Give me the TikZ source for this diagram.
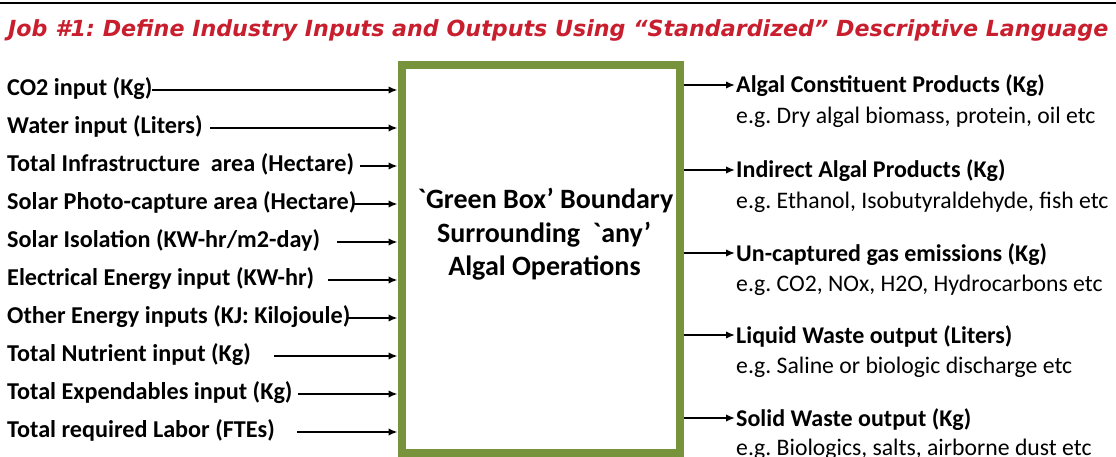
\documentclass[tikz,border=0pt]{standalone}
\usepackage{fontspec}
\setmainfont{Carlito}[Ligatures=TeXOff]
\newfontfamily\titlefont{DejaVu Sans}[Ligatures=TeXOff]
\usetikzlibrary{arrows.meta}
\definecolor{boxgreen}{RGB}{119,147,60}
\definecolor{titlered}{RGB}{200,30,45}
\frenchspacing
\begin{document}
\begin{tikzpicture}[x=1pt,y=-1pt,
  inlab/.style={font=\bfseries\fontsize{24.2}{26}\selectfont, anchor=base west, inner sep=0pt},
  outhead/.style={font=\bfseries\fontsize{24}{26}\selectfont, anchor=base west, inner sep=0pt},
  outdesc/.style={font=\fontsize{23.7}{26}\selectfont, anchor=base west, inner sep=0pt},
  boxtext/.style={font=\bfseries\fontsize{28}{30}\selectfont, anchor=base, inner sep=0pt},
  arr/.style={line width=1.6pt, -{Latex[length=9pt,width=7.5pt]}}]
\useasboundingbox (0,0) rectangle (1116,457);
\fill[white] (0,0) rectangle (1116,457);
\draw[line width=2pt] (0,3.5) -- (1116,3.5);
\node[anchor=base west, inner sep=0pt, text=titlered] (title) at (8,37)
  {\resizebox{1100pt}{!}{\titlefont\bfseries\itshape Job \#1: Define Industry Inputs and Outputs Using “Standardized” Descriptive Language}};
% green box
\node[draw=boxgreen, line width=8pt, minimum width=278.5pt, minimum height=388pt, inner sep=0pt] (box) at (540.75,259) {};
\node[boxtext] (c1) at (545.5,209) {`Green Box’ Boundary};
\node[boxtext] (c2) at (544,242) {Surrounding\ \ `any’};
\node[boxtext] (c3) at (544.5,275.5) {Algal Operations};
% inputs
\node[inlab] (l1) at (7,95.5) {CO2 input (Kg)};
\node[inlab] (l2) at (7,133.5) {Water input (Liters)};
\node[inlab] (l3) at (7,171.5) {Total Infrastructure\ \ area (Hectare)};
\node[inlab] (l4) at (7,209.5) {Solar Photo-capture area (Hectare)};
\node[inlab] (l5) at (7,247.5) {Solar Isolation (KW-hr/m2-day)};
\node[inlab] (l6) at (7,285.5) {Electrical Energy input (KW-hr)};
\node[inlab] (l7) at (7,323.5) {Other Energy inputs (KJ: Kilojoule)};
\node[inlab] (l8) at (7,361.5) {Total Nutrient input (Kg)};
\node[inlab] (l9) at (7,399.5) {Total Expendables input (Kg)};
\node[inlab] (l10) at (7,437.5) {Total required Labor (FTEs)};
\coordinate (s1) at (152,90);
\coordinate (s2) at (210,128);
\coordinate (s3) at (360,166);
\coordinate (s4) at (354,204);
\coordinate (s5) at (337,242);
\coordinate (s6) at (328,280);
\coordinate (s7) at (347,318);
\coordinate (s8) at (274,356);
\coordinate (s9) at (298,394);
\coordinate (s10) at (297,432);
\foreach \i in {1,...,10} {\draw[arr] (s\i) -- (s\i -| box.west);}
% outputs
\coordinate (t1) at (735,85);
\coordinate (t2) at (735,170);
\coordinate (t3) at (735,253);
\coordinate (t4) at (735,335);
\coordinate (t5) at (735,418);
\node[outhead] (h1) at (736,93) {Algal Constituent Products (Kg)};
\node[outdesc] (d1) at (736,123.5) {e.g. Dry algal biomass, protein, oil etc};
\node[outhead] (h2) at (736,178) {Indirect Algal Products (Kg)};
\node[outdesc] (d2) at (736,208.5) {e.g. Ethanol, Isobutyraldehyde, fish etc};
\node[outhead] (h3) at (736,261) {Un-captured gas emissions (Kg)};
\node[outdesc] (d3) at (736,291.5) {e.g. CO2, NOx, H2O, Hydrocarbons etc};
\node[outhead] (h4) at (736,343) {Liquid Waste output (Liters)};
\node[outdesc] (d4) at (736,373.5) {e.g. Saline or biologic discharge etc};
\node[outhead] (h5) at (736,426) {Solid Waste output (Kg)};
\node[outdesc] (d5) at (736,455.5) {e.g. Biologics, salts, airborne dust etc};
\foreach \i in {1,...,5} {\draw[arr] (t\i -| box.east) -- (t\i);}
\end{tikzpicture}
\end{document}
